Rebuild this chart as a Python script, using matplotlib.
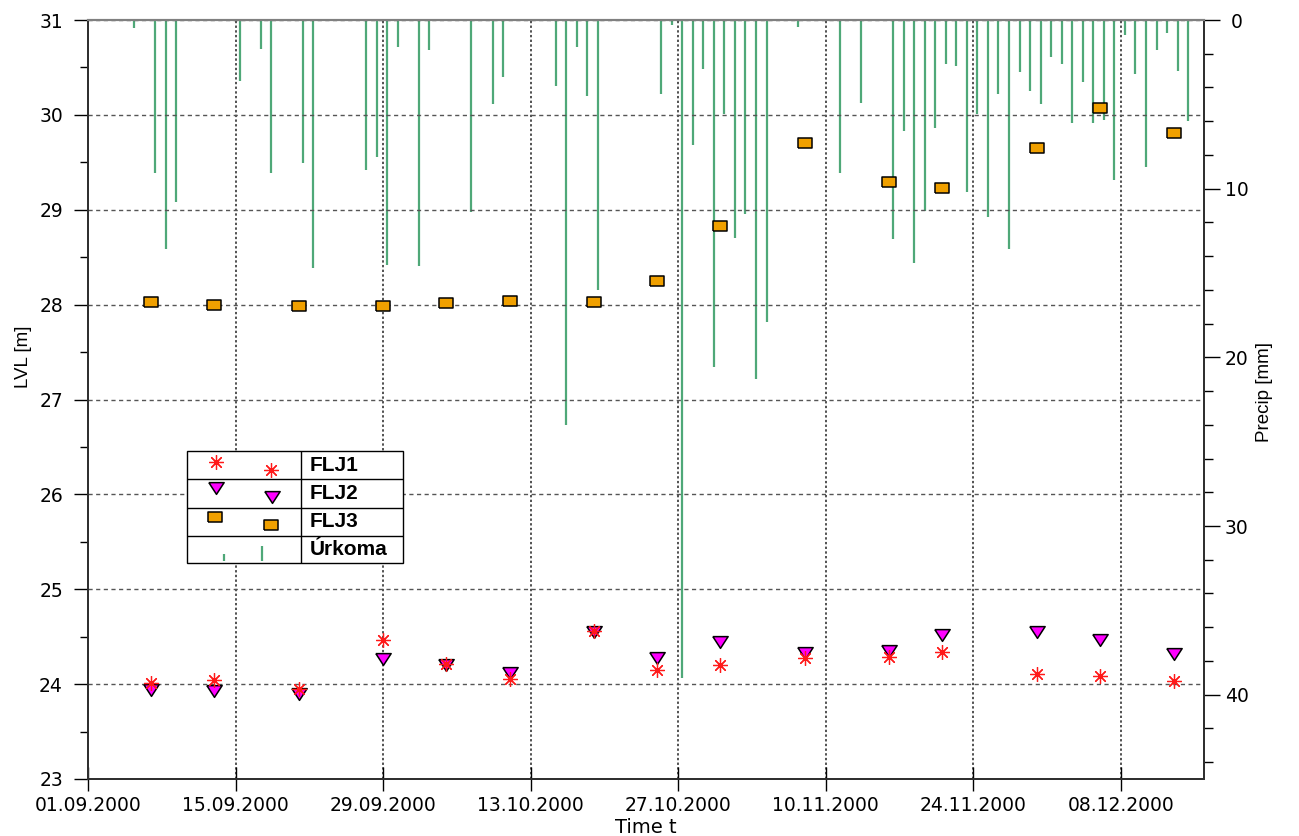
import matplotlib
matplotlib.use("Agg")
import matplotlib.pyplot as plt
import matplotlib.dates as mdates
from matplotlib.ticker import MultipleLocator
from matplotlib.patches import Rectangle
import pandas as pd

# water level observations [m]
obs_dates = ["2000-09-07", "2000-09-13", "2000-09-21", "2000-09-29", "2000-10-05",
             "2000-10-11", "2000-10-19", "2000-10-25", "2000-10-31", "2000-11-08",
             "2000-11-16", "2000-11-21", "2000-11-30", "2000-12-06", "2000-12-13"]
flj1 = [24.01, 24.04, 23.95, 24.46, 24.21, 24.05, 24.56, 24.15, 24.20, 24.28,
        24.29, 24.34, 24.11, 24.085, 24.03]
flj2 = [23.935, 23.93, 23.90, 24.27, 24.20, 24.12, 24.55, 24.28, 24.44, 24.33,
        24.35, 24.52, 24.55, 24.46, 24.32]
flj3 = [28.03, 28.00, 27.99, 27.99, 28.02, 28.04, 28.03, 28.25, 28.83, 29.70,
        29.29, 29.23, 29.65, 30.07, 29.81]

# daily precipitation at Úrkoma [mm]
precip_dates = ["2000-09-05", "2000-09-07", "2000-09-08", "2000-09-09", "2000-09-15",
                "2000-09-17", "2000-09-18", "2000-09-21", "2000-09-22", "2000-09-27",
                "2000-09-28", "2000-09-29", "2000-09-30", "2000-10-02", "2000-10-03",
                "2000-10-07", "2000-10-09", "2000-10-10", "2000-10-15", "2000-10-16",
                "2000-10-17", "2000-10-18", "2000-10-19", "2000-10-25", "2000-10-26",
                "2000-10-27", "2000-10-28", "2000-10-29", "2000-10-30", "2000-10-31",
                "2000-11-01", "2000-11-02", "2000-11-03", "2000-11-04", "2000-11-07",
                "2000-11-11", "2000-11-13", "2000-11-16", "2000-11-17", "2000-11-18",
                "2000-11-19", "2000-11-20", "2000-11-21", "2000-11-22", "2000-11-23",
                "2000-11-24", "2000-11-25", "2000-11-26", "2000-11-27", "2000-11-28",
                "2000-11-29", "2000-11-30", "2000-12-01", "2000-12-02", "2000-12-03",
                "2000-12-04", "2000-12-05", "2000-12-06", "2000-12-07", "2000-12-08",
                "2000-12-09", "2000-12-10", "2000-12-11", "2000-12-12", "2000-12-13",
                "2000-12-14"]
precip = [0.5, 9.1, 13.6, 10.8, 3.6, 1.7, 9.1, 8.5, 14.7, 8.9,
          8.1, 14.5, 1.6, 14.6, 1.8, 11.4, 5.0, 3.4, 3.9, 24.0,
          1.6, 4.5, 16.0, 4.4, 0.3, 39.0, 7.4, 2.9, 20.6, 5.6,
          12.9, 11.5, 21.3, 17.9, 0.4, 9.1, 4.9, 13.0, 6.6, 14.4,
          11.3, 6.4, 2.6, 2.7, 10.2, 5.6, 11.7, 4.4, 13.6, 3.1,
          4.2, 5.0, 2.2, 2.6, 6.1, 3.7, 6.1, 5.9, 9.5, 0.9,
          3.2, 8.7, 1.8, 0.8, 3.0, 6.0]

x_ticks = pd.date_range("2000-09-01", "2000-12-08", freq="14D")

GREEN = "#4fa878"
ORANGE = "#f0a000"
MAGENTA = "#ff00ff"
RED = "#ff1a1a"

# flattened marker shapes
SQUARE = [(-1.3, -1), (1.3, -1), (1.3, 1), (-1.3, 1), (-1.3, -1)]
TRIDOWN = [(-1.3, 1), (1.3, 1), (0, -1), (-1.3, 1)]
ASTER = (8, 2, 0)

sq_kw = dict(ls="none", marker=SQUARE, ms=9.8, mfc=ORANGE, mec="black", mew=1.1)
tri_kw = dict(ls="none", marker=TRIDOWN, ms=11.0, mfc=MAGENTA, mec="black", mew=1.1)
ast_kw = dict(ls="none", marker=ASTER, ms=10.5, mec=RED, mew=0.9)

W, H = 1299, 836
fig = plt.figure(figsize=(W / 100, H / 100), dpi=100)
ax = fig.add_axes([88 / W, 57 / H, 1116 / W, 759 / H])
ax2 = ax.twinx()
ax.set_zorder(ax2.get_zorder() + 1)
ax.patch.set_visible(False)

# precipitation hangs from the top
pdates = pd.to_datetime(precip_dates) + pd.Timedelta(hours=9)
ax2.vlines(pdates, 0, precip, color=GREEN, lw=1.6)
ax2.set_ylim(45, 0)
ax2.set_yticks([0, 10, 20, 30, 40])
ax2.yaxis.set_minor_locator(MultipleLocator(2))
ax2.tick_params(axis="y", which="major", direction="out", length=11.5, width=1,
                pad=12, labelsize=13.5, colors="black")
ax2.tick_params(axis="y", which="minor", direction="out", length=6.5, width=1)
for lbl in ax2.get_yticklabels():
    lbl.set_ha("center")
ax2.set_ylabel("Precip [mm]", fontfamily="Liberation Sans", fontsize=13.5)
ax2.yaxis.set_label_coords(1.047, 0.51)

odates = pd.to_datetime(obs_dates)
ax.plot(odates, flj3, zorder=3, **sq_kw)
ax.plot(odates, flj2, zorder=4, **tri_kw)
ax.plot(odates, flj1, zorder=5, **ast_kw)

ax.set_ylim(23, 31)
ax.yaxis.set_major_locator(MultipleLocator(1))
ax.yaxis.set_minor_locator(MultipleLocator(0.5))
ax.set_xlim(pd.Timestamp("2000-09-01"), pd.Timestamp("2000-12-15 21:00"))
ax.set_xticks(x_ticks)
ax.xaxis.set_major_formatter(mdates.DateFormatter("%d.%m.%Y"))

ax.tick_params(axis="y", which="major", direction="out", length=10, width=1,
               pad=8, labelsize=13.5)
ax.tick_params(axis="y", which="minor", direction="out", length=6, width=1)
ax.tick_params(axis="x", which="major", direction="inout", length=17, width=1,
               pad=4, labelsize=13.5)

ax.yaxis.grid(True, ls=(0, (3, 2.5)), color="#555555", lw=1.0)
ax.xaxis.grid(True, ls=(0, (1.3, 1.3)), color="#444444", lw=1.3)

for a in (ax, ax2):
    a.spines["top"].set_color("#808080")
    a.spines["top"].set_linewidth(1.5)
    for s in ("left", "right", "bottom"):
        a.spines[s].set_color("#303030")
        a.spines[s].set_linewidth(1.4)

ax.set_ylabel("LVL [m]", fontfamily="Liberation Sans", fontsize=13.5)
ax.yaxis.set_label_coords(-0.05, 0.556)
ax.set_xlabel("Time t", fontfamily="DejaVu Sans", fontsize=14)
ax.xaxis.set_label_coords(0.5, -0.051)

# legend drawn as a small table, in pixel units
lw_, lh_ = 215.4, 112.3
leg = fig.add_axes([187.3 / W, (H - 563.3) / H, lw_ / W, lh_ / H])
leg.set_zorder(10)
leg.set_xlim(0, lw_)
leg.set_ylim(lh_, 0)
leg.axis("off")
leg.add_patch(Rectangle((0, 0), lw_, lh_, facecolor="white", edgecolor="black",
                        lw=1, clip_on=False))
leg.hlines([28.3, 56.7, 84.7], 0, lw_, color="black", lw=1)
leg.vlines(113.4, 0, lh_, color="black", lw=1)
leg.plot([28.4, 83.4], [10.7, 19.0], **ast_kw)
leg.plot([28.4, 84.4], [37.3, 46.3], **tri_kw)
leg.plot([27.7, 83.4], [65.7, 74.0], **sq_kw)
leg.vlines([37, 75], [103, 95], [110, 110], color=GREEN, lw=1.6)
for yc, name in zip([14.2, 42.5, 70.7, 98.8], ["FLJ1", "FLJ2", "FLJ3", "Úrkoma"]):
    leg.text(122.7, yc, name, fontfamily="Liberation Sans", fontweight="bold",
             fontsize=15, va="center", ha="left")

fig.savefig("out.png", dpi=100)
